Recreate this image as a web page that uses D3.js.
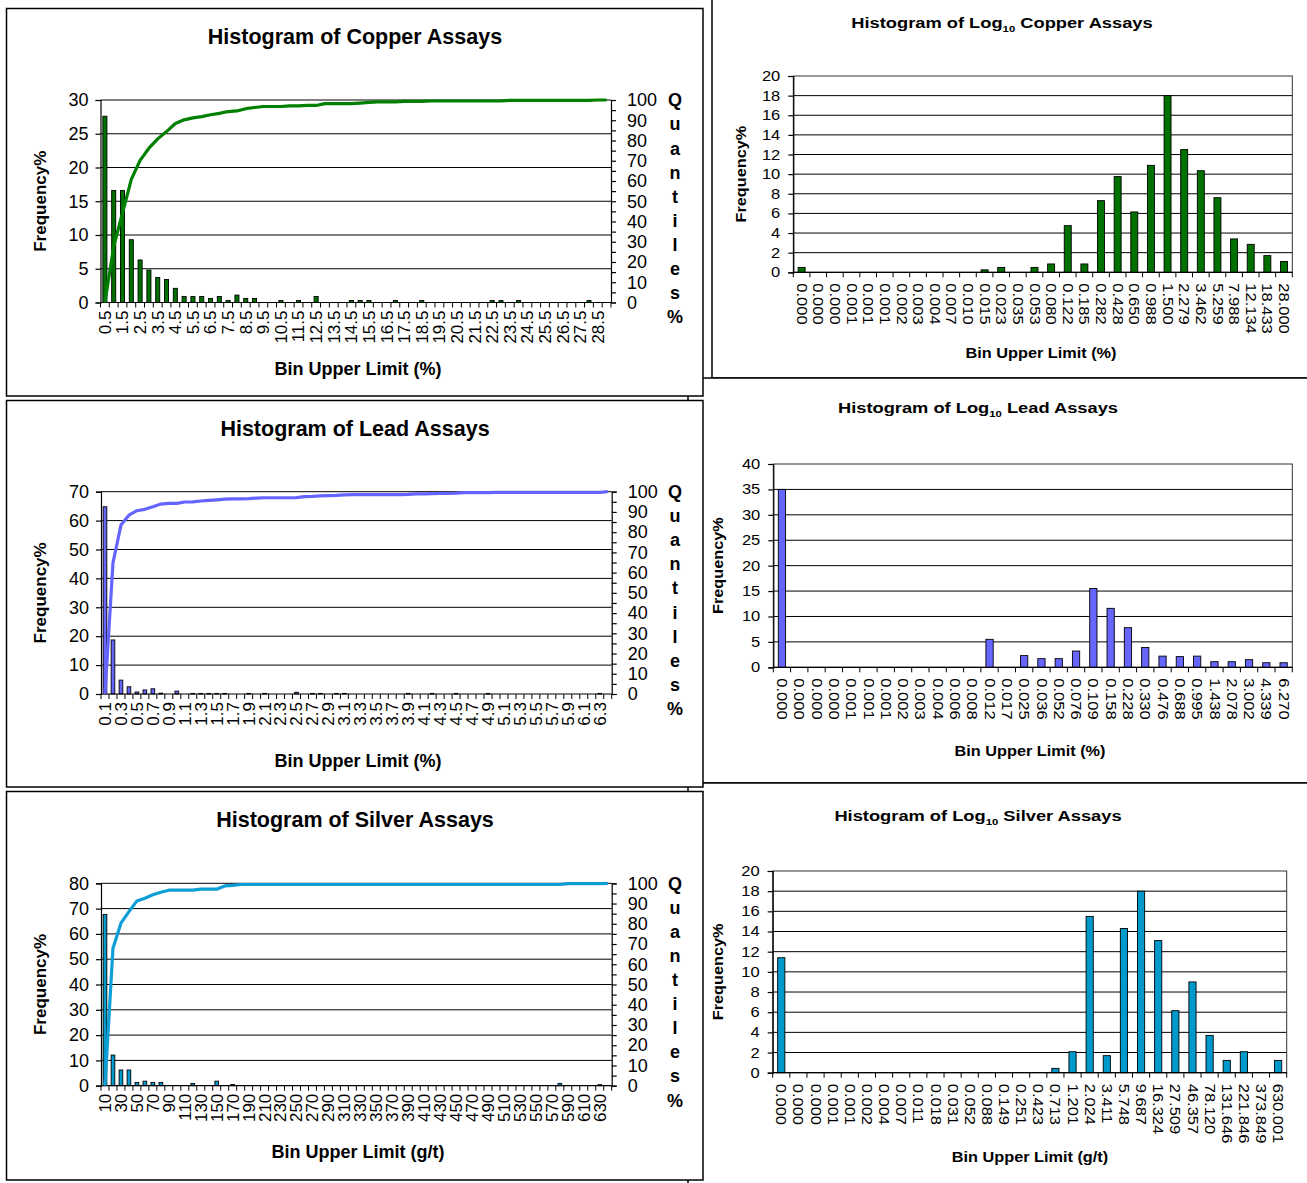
<!DOCTYPE html>
<html>
<head>
<meta charset="utf-8">
<script src="https://cdn.jsdelivr.net/npm/d3@7"></script>
<style>
  body { margin: 0; background: #fff; }
  svg { display: block; }
  text { font-family: "Liberation Sans", Arial, sans-serif; fill: #000; }
</style>
</head>
<body>
<svg id="chart" width="1307" height="1183"></svg>
<script>
// ---------- Copper ----------
const cuBins = [0.5,1,1.5,2,2.5,3,3.5,4,4.5,5,5.5,6,6.5,7,7.5,8,8.5,9,9.5,10,
  10.5,11,11.5,12,12.5,13,13.5,14,14.5,15,15.5,16,16.5,17,17.5,18,18.5,19,19.5,20,
  20.5,21,21.5,22,22.5,23,23.5,24,24.5,25,25.5,26,26.5,27,27.5,28,28.5,29];
const cuFreq = [27.6,16.6,16.6,9.3,6.3,4.8,3.7,3.4,2.1,0.9,
  0.9,0.9,0.6,0.9,0.3,1.1,0.6,0.6,0,0,
  0.3,0,0.3,0,0.9,0,0,0,0.3,0.3,
  0.3,0,0,0.3,0,0,0.3,0,0,0,
  0,0,0,0,0.3,0.3,0,0.3,0,0,
  0,0,0,0,0,0.3,0,0];
const cuQuant = [0,27.6,44.2,60.8,70.2,76.2,80.8,84.4,88.4,90.2,
  91.2,91.8,92.7,93.4,94.3,94.6,95.7,96.3,96.8,96.8,
  96.8,97.1,97.1,97.3,97.3,98.2,98.2,98.2,98.2,98.5,
  98.8,99.1,99.1,99.1,99.3,99.3,99.3,99.5,99.5,99.5,
  99.5,99.5,99.5,99.5,99.5,99.6,99.8,99.8,99.8,99.8,
  99.8,99.8,99.8,99.8,99.8,99.8,100,100];
const cuLogBins = ["0.000","0.000","0.000","0.001","0.001","0.001","0.002","0.003","0.004","0.007",
  "0.010","0.015","0.023","0.035","0.053","0.080","0.122","0.185","0.282","0.428",
  "0.650","0.988","1.500","2.279","3.462","5.259","7.988","12.134","18.433","28.000"];
const cuLogFreq = [0.5,0,0,0,0,0,0,0,0,0,
  0,0.25,0.5,0,0.5,0.85,4.75,0.85,7.3,9.75,
  6.15,10.9,18,12.5,10.35,7.6,3.4,2.85,1.7,1.1];

// ---------- Lead ----------
const pbBins = [0.1,0.2,0.3,0.4,0.5,0.6,0.7,0.8,0.9,1.0,
  1.1,1.2,1.3,1.4,1.5,1.6,1.7,1.8,1.9,2.0,
  2.1,2.2,2.3,2.4,2.5,2.6,2.7,2.8,2.9,3.0,
  3.1,3.2,3.3,3.4,3.5,3.6,3.7,3.8,3.9,4.0,
  4.1,4.2,4.3,4.4,4.5,4.6,4.7,4.8,4.9,5.0,
  5.1,5.2,5.3,5.4,5.5,5.6,5.7,5.8,5.9,6.0,
  6.1,6.2,6.3,6.4];
const pbFreq = [64.8,18.7,4.8,2.5,0.7,1.4,1.8,0.3,0,1.0,
  0,0.2,0.2,0.2,0.2,0.2,0,0,0.2,0,
  0.2,0,0,0,0.6,0,0.2,0.2,0,0.2,
  0.2,0,0,0,0,0,0,0,0.2,0,
  0,0.2,0,0,0.2,0,0,0,0.2,0,
  0,0,0,0,0,0,0,0,0,0,
  0,0,0.2,0];
const pbQuant = [0,64.8,83.5,88.4,90.6,91.3,92.6,93.9,94.2,94.2,
  94.9,95.0,95.4,95.7,96.0,96.3,96.5,96.5,96.6,96.8,
  97.0,97.0,97.0,97.0,97.1,97.6,97.7,97.9,98.1,98.2,
  98.4,98.6,98.6,98.6,98.6,98.6,98.6,98.6,98.7,98.9,
  98.9,99.0,99.2,99.2,99.3,99.5,99.5,99.5,99.5,99.7,
  99.7,99.7,99.7,99.7,99.7,99.7,99.7,99.7,99.7,99.7,
  99.7,99.7,99.7,100];
const pbLogBins = ["0.000","0.000","0.000","0.000","0.001","0.001","0.001","0.002","0.003","0.004",
  "0.006","0.008","0.012","0.017","0.025","0.036","0.052","0.076","0.109","0.158",
  "0.228","0.330","0.476","0.688","0.995","1.438","2.078","3.002","4.339","6.270"];
const pbLogFreq = [35,0,0,0,0,0,0,0,0,0,
  0,0,5.5,0,2.3,1.7,1.7,3.2,15.5,11.6,
  7.8,3.9,2.2,2.1,2.2,1.1,1.1,1.5,0.9,0.9];

// ---------- Silver ----------
const agBins = [10,20,30,40,50,60,70,80,90,100,
  110,120,130,140,150,160,170,180,190,200,
  210,220,230,240,250,260,270,280,290,300,
  310,320,330,340,350,360,370,380,390,400,
  410,420,430,440,450,460,470,480,490,500,
  510,520,530,540,550,560,570,580,590,600,
  610,620,630,640];
const agFreq = [67.7,12.1,6.2,6.2,1.3,1.8,1.3,1.3,0,0,
  0,0.9,0,0,1.8,0,0.5,0,0,0,
  0,0,0,0,0,0,0,0,0,0,
  0,0,0,0,0,0,0,0,0,0,
  0,0,0,0,0,0,0,0,0,0,
  0,0,0,0,0,0,0,0.9,0,0,
  0,0,0.4,0];
const agQuant = [0,67.9,80.3,86.0,91.3,92.6,94.3,95.6,96.6,96.6,
  96.6,96.6,97.1,97.1,97.1,98.7,99.0,99.4,99.4,99.4,
  99.4,99.4,99.4,99.4,99.4,99.4,99.4,99.4,99.4,99.4,
  99.4,99.4,99.4,99.4,99.4,99.4,99.4,99.4,99.4,99.4,
  99.4,99.4,99.4,99.4,99.4,99.4,99.4,99.4,99.4,99.4,
  99.4,99.4,99.4,99.4,99.4,99.4,99.4,99.4,99.8,99.8,
  99.8,99.8,99.8,100];
const agLogBins = ["0.000","0.000","0.000","0.001","0.001","0.002","0.004","0.007","0.011","0.018",
  "0.031","0.052","0.088","0.149","0.251","0.423","0.713","1.201","2.024","3.411",
  "5.748","9.687","16.324","27.509","46.357","78.120","131.646","221.846","373.849","630.001"];
const agLogFreq = [11.4,0,0,0,0,0,0,0,0,0,
  0,0,0,0,0,0,0.43,2.08,15.5,1.69,
  14.3,18,13.1,6.15,9,3.7,1.22,2.08,0,1.22];

const quantLetters = ["Q","u","a","n","t","i","l","e","s","%"];

const svg = d3.select("#chart");

// text helper: optional rotation and horizontal (along-text) stretch
function label(g, x, y, str, o) {
  const t = g.append("text")
    .attr("transform", `translate(${x},${y}) rotate(${o.rot || 0}) scale(${o.sx || 1},1)`)
    .attr("font-size", o.size)
    .attr("font-weight", o.bold ? "bold" : "normal")
    .attr("text-anchor", o.anchor || "middle")
    .attr("dy", o.dy || "0.35em")
    .text(str);
  return t;
}

// title with a subscript "10"
function logTitle(g, x, y, metal, o) {
  const t = g.append("text")
    .attr("transform", `translate(${x},${y}) scale(${o.sx},1)`)
    .attr("font-size", o.size).attr("font-weight", "bold")
    .attr("text-anchor", "middle");
  t.append("tspan").text("Histogram of Log");
  t.append("tspan").attr("font-size", o.size * 0.62).attr("dy", o.size * 0.28).text("10");
  t.append("tspan").attr("dy", -o.size * 0.28).text(" " + metal + " Assays");
}

// ---------- frequency histogram with cumulative quantile line ----------
function freqPanel(o) {
  const g = svg.append("g");
  g.append("rect").attr("x", o.frame[0]).attr("y", o.frame[1])
    .attr("width", o.frame[2]).attr("height", o.frame[3])
    .attr("fill", "#fff").attr("stroke", "#000").attr("stroke-width", 1.5);

  const idx = d3.range(o.bins.length);
  const x = d3.scaleBand().domain(idx).range([o.x0, o.x1]).padding(0);
  const y = d3.scaleLinear().domain([0, o.yMax]).range([o.y1, o.y0]);
  const yq = d3.scaleLinear().domain([0, 100]).range([o.y1, o.y0]);
  const bw = x.bandwidth();
  const yTicks = d3.range(0, o.yMax + o.yStep / 2, o.yStep);

  // gridlines
  g.selectAll(".grid").data(yTicks.filter(v => v > 0)).join("line")
    .attr("x1", o.x0).attr("x2", o.x1)
    .attr("y1", d => y(d)).attr("y2", d => y(d))
    .attr("stroke", "#000").attr("stroke-width", 1);

  // bars
  const barW = bw * 0.46;
  g.selectAll(".bar").data(o.freq.map((v, i) => ({ v, i })).filter(d => d.v > 0)).join("rect")
    .attr("x", d => x(d.i) + (bw - barW) / 2)
    .attr("y", d => y(d.v))
    .attr("width", barW)
    .attr("height", d => y(0) - y(d.v))
    .attr("fill", o.color).attr("stroke", "#000").attr("stroke-width", 0.9);

  // left axis
  const ax = g.append("g").attr("transform", `translate(${o.x0},0)`)
    .call(d3.axisLeft(y).tickValues(yTicks).tickSize(5).tickPadding(7).tickFormat(d3.format("d")));
  ax.attr("font-size", 18).attr("font-family", null);
  ax.selectAll("path,line").attr("stroke", "#000").attr("stroke-width", 1.2);

  // right (quantile) axis
  const ar = g.append("g").attr("transform", `translate(${o.x1},0)`)
    .call(d3.axisRight(yq).tickValues(d3.range(0, 101, 5)).tickSize(5).tickPadding(11)
      .tickFormat(d => d % 10 === 0 ? d : ""));
  ar.attr("font-size", 18).attr("font-family", null);
  ar.selectAll("path,line").attr("stroke", "#000").attr("stroke-width", 1.2);

  // x axis line, boundary ticks and labels
  g.append("line").attr("x1", o.x0).attr("x2", o.x1).attr("y1", y(0)).attr("y2", y(0))
    .attr("stroke", "#000").attr("stroke-width", 1.2);
  g.selectAll(".xt").data(d3.range(o.bins.length + 1)).join("line")
    .attr("x1", d => o.x0 + d * bw).attr("x2", d => o.x0 + d * bw)
    .attr("y1", y(0)).attr("y2", y(0) + 5)
    .attr("stroke", "#000").attr("stroke-width", 1);
  idx.filter(i => i % 2 === 0).forEach(i => {
    label(g, x(i) + bw / 2, y(0) + 8, String(o.bins[i]), { size: 17, rot: -90, anchor: "end" });
  });

  // quantile line
  g.append("path").datum(o.quant)
    .attr("d", d3.line().x((d, i) => x(i) + bw / 2).y(d => yq(d)))
    .attr("fill", "none").attr("stroke", o.lineColor).attr("stroke-width", 3.2)
    .attr("stroke-linejoin", "round");

  // titles
  label(g, 355, o.titleY, o.title, { size: 21.5, bold: true });
  label(g, 40, (o.y0 + o.y1) / 2, "Frequency%", { size: 17, bold: true, rot: -90 });
  label(g, 358, o.xTitleY, o.xTitle, { size: 18, bold: true });
  quantLetters.forEach((c, i) => label(g, 675, o.y0 + i * 24.1, c, { size: 18, bold: true }));
}

// ---------- histogram of log-scaled bins ----------
const SX = 1.18;
function logPanel(o) {
  const g = svg.append("g");
  g.append("rect").attr("x", o.frame[0]).attr("y", o.frame[1])
    .attr("width", o.frame[2]).attr("height", o.frame[3])
    .attr("fill", "#fff").attr("stroke", "#000").attr("stroke-width", 1.5);

  const idx = d3.range(o.bins.length);
  const x = d3.scaleBand().domain(idx).range([o.x0, o.x1]).padding(0);
  const y = d3.scaleLinear().domain([0, o.yMax]).range([o.y1, o.y0]);
  const bw = x.bandwidth();
  const yTicks = d3.range(0, o.yMax + o.yStep / 2, o.yStep);

  g.selectAll(".grid").data(yTicks.filter(v => v > 0 && v < o.yMax)).join("line")
    .attr("x1", o.x0).attr("x2", o.x1)
    .attr("y1", d => y(d)).attr("y2", d => y(d))
    .attr("stroke", "#000").attr("stroke-width", 1);
  g.append("rect").attr("x", o.x0).attr("y", o.y0)
    .attr("width", o.x1 - o.x0).attr("height", o.y1 - o.y0)
    .attr("fill", "none").attr("stroke", "#333").attr("stroke-width", 1);

  const barW = bw * 0.42;
  g.selectAll(".bar").data(o.freq.map((v, i) => ({ v, i })).filter(d => d.v > 0)).join("rect")
    .attr("x", d => x(d.i) + (bw - barW) / 2)
    .attr("y", d => y(d.v))
    .attr("width", barW)
    .attr("height", d => y(0) - y(d.v))
    .attr("fill", o.color).attr("stroke", "#000").attr("stroke-width", 0.9);

  // y axis with stretched labels
  const ax = g.append("g").attr("transform", `translate(${o.x0},0)`)
    .call(d3.axisLeft(y).tickValues(yTicks).tickSize(5).tickPadding(8).tickFormat(d3.format("d")));
  ax.attr("font-size", 14).attr("font-family", null);
  ax.selectAll("path,line").attr("stroke", "#000").attr("stroke-width", 1.2);
  ax.selectAll(".tick text").attr("x", 0).attr("transform", `translate(-13,0) scale(${SX},1)`);

  g.append("line").attr("x1", o.x0).attr("x2", o.x1).attr("y1", y(0)).attr("y2", y(0))
    .attr("stroke", "#000").attr("stroke-width", 1.2);
  g.selectAll(".xt").data(d3.range(o.bins.length + 1)).join("line")
    .attr("x1", d => o.x0 + d * bw).attr("x2", d => o.x0 + d * bw)
    .attr("y1", y(0)).attr("y2", y(0) + 5)
    .attr("stroke", "#000").attr("stroke-width", 1);
  idx.forEach(i => {
    label(g, x(i) + bw / 2, y(0) + 11, o.bins[i], { size: 14, rot: 90, anchor: "start", sx: SX });
  });

  logTitle(g, o.titleX, o.titleY, o.metal, { size: 15.5, sx: 1.18 });
  label(g, o.freqX, (o.y0 + o.y1) / 2, "Frequency%", { size: 13.8, bold: true, rot: -90, sx: SX });
  label(g, o.xTitleX, o.xTitleY, o.xTitle, { size: 13.8, bold: true, sx: SX });
}

// right column first, left column drawn over it
logPanel({
  frame: [712, -5, 620, 383], metal: "Copper",
  bins: cuLogBins, freq: cuLogFreq, color: "#007000",
  x0: 793.3, x1: 1292.3, y0: 76, y1: 272.3, yMax: 20, yStep: 2,
  titleX: 1002, titleY: 28, freqX: 741.5, xTitleX: 1041, xTitleY: 353, xTitle: "Bin Upper Limit (%)"
});
logPanel({
  frame: [688, 378, 640, 405], metal: "Lead",
  bins: pbLogBins, freq: pbLogFreq, color: "#6666ff",
  x0: 773.3, x1: 1292.3, y0: 464, y1: 667.3, yMax: 40, yStep: 5,
  titleX: 978, titleY: 413, freqX: 718, xTitleX: 1030, xTitleY: 751, xTitle: "Bin Upper Limit (%)"
});
logPanel({
  frame: [688, 783, 640, 420], metal: "Silver",
  bins: agLogBins, freq: agLogFreq, color: "#0099cc",
  x0: 772.7, x1: 1286.7, y0: 871, y1: 1072.7, yMax: 20, yStep: 2,
  titleX: 978, titleY: 821, freqX: 718, xTitleX: 1030, xTitleY: 1157, xTitle: "Bin Upper Limit (g/t)"
});

freqPanel({
  frame: [6.5, 8.5, 696.5, 387.5], title: "Histogram of Copper Assays",
  bins: cuBins, freq: cuFreq, quant: cuQuant, color: "#007000", lineColor: "#008000",
  x0: 100.5, x1: 611, y0: 100, y1: 302.5, yMax: 30, yStep: 5,
  titleY: 36, xTitleY: 369, xTitle: "Bin Upper Limit (%)"
});
freqPanel({
  frame: [6.5, 400.5, 696.5, 386.5], title: "Histogram of Lead Assays",
  bins: pbBins, freq: pbFreq, quant: pbQuant, color: "#6666ff", lineColor: "#6464ff",
  x0: 101, x1: 611.7, y0: 491.7, y1: 694, yMax: 70, yStep: 10,
  titleY: 428, xTitleY: 761, xTitle: "Bin Upper Limit (%)"
});
freqPanel({
  frame: [6.5, 791.5, 696.5, 388.5], title: "Histogram of Silver Assays",
  bins: agBins, freq: agFreq, quant: agQuant, color: "#0099cc", lineColor: "#0e9ed6",
  x0: 101, x1: 611.7, y0: 883.3, y1: 1085.7, yMax: 80, yStep: 10,
  titleY: 819, xTitleY: 1152, xTitle: "Bin Upper Limit (g/t)"
});
</script>
</body>
</html>
